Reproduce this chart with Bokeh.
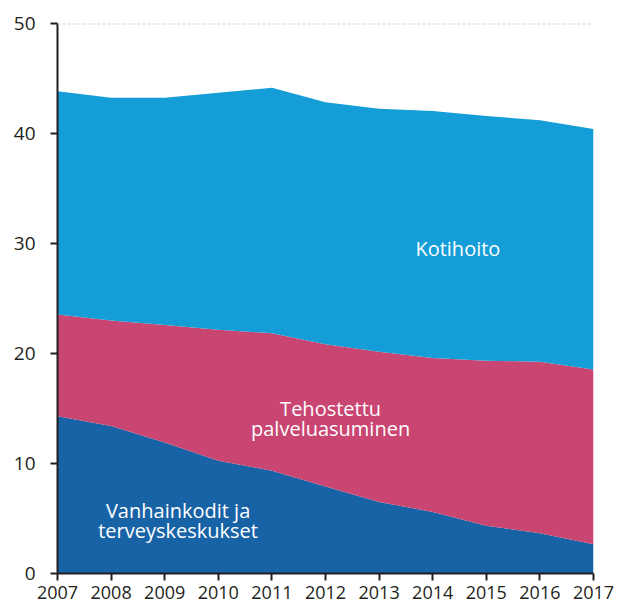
from bokeh.plotting import figure
from bokeh.models import ColumnDataSource, Span, FixedTicker
from bokeh.core.properties import value
from bokeh.embed import file_html
from bokeh.resources import INLINE

years = [2007, 2008, 2009, 2010, 2011, 2012, 2013, 2014, 2015, 2016, 2017]
vanhainkodit = [14.3, 13.4, 11.9, 10.25, 9.35, 7.9, 6.5, 5.6, 4.35, 3.65, 2.65]
tehostettu = [9.25, 9.6, 10.7, 11.9, 12.5, 12.95, 13.65, 14.0, 15.0, 15.6, 15.9]
kotihoito = [20.3, 20.25, 20.65, 21.55, 22.3, 22.0, 22.1, 22.45, 22.25, 21.95, 21.85]
y_ticks = [0, 10, 20, 30, 40, 50]

series = ["vanhainkodit", "tehostettu", "kotihoito"]
colors = ["#1863a6", "#c94572", "#149dd7"]

src = ColumnDataSource(dict(year=years, vanhainkodit=vanhainkodit,
                            tehostettu=tehostettu, kotihoito=kotihoito))

p = figure(width=615, height=610, output_backend="svg", toolbar_location=None,
           x_range=(2007, 2017), y_range=(0, 50),
           min_border_left=57, min_border_right=22, min_border_top=23,
           min_border_bottom=37)
p.outline_line_color = None
p.background_fill_color = "white"
p.border_fill_color = "white"

p.varea_stack(stackers=series, x="year", color=colors, source=src)

p.add_layout(Span(location=50, dimension="width", line_color="#b8d8e4",
                  line_width=2, line_dash="3 2"))

p.xgrid.visible = False
p.ygrid.visible = False

for ax in (p.xaxis[0], p.yaxis[0]):
    ax.axis_line_color = "#231f20"
    ax.axis_line_width = 2
    ax.major_tick_line_color = "#231f20"
    ax.major_tick_line_width = 2
    ax.major_tick_in = 0
    ax.major_tick_out = 7
    ax.minor_tick_line_color = None
    ax.major_label_text_font = "Open Sans"
    ax.major_label_text_font_size = "19px"
    ax.major_label_text_color = "#231f20"

p.xaxis.major_label_text_font_size = "18px"
p.xaxis.ticker = FixedTicker(ticks=years)
p.yaxis.ticker = FixedTicker(ticks=y_ticks)
p.xaxis.major_label_standoff = 5
p.yaxis.major_label_standoff = 15

label_text = ["Kotihoito", "Tehostettu", "palveluasuminen",
              "Vanhainkodit ja", "terveyskeskukset"]
label_x = [2014.47, 2012.095, 2012.095, 2009.25, 2009.25]
label_y = [29.52, 14.99, 13.17, 5.71, 3.88]
p.text(x=label_x, y=label_y, text=label_text, text_color="white",
       text_font=value("Open Sans"), text_font_size="20px",
       text_align="center", text_baseline="alphabetic")

open("out.html", "w").write(file_html(p, INLINE))
